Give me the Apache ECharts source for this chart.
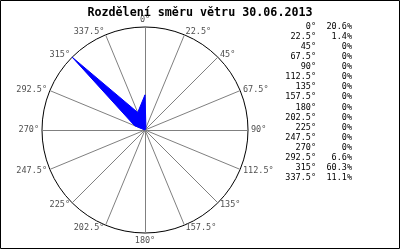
<!DOCTYPE html>
<html><head><meta charset="utf-8">
<script src="https://cdn.jsdelivr.net/npm/echarts@6/dist/echarts.min.js"></script>
<style>html,body{margin:0;padding:0;background:#fff}#c{width:400px;height:250px}</style>
</head><body><div id="c"></div>
<script>
const titleText = 'Rozdělení směru větru 30.06.2013';
const directions = [0, 22.5, 45, 67.5, 90, 112.5, 135, 157.5, 180, 202.5, 225, 247.5, 270, 292.5, 315, 337.5];
const values = [20.6, 1.4, 0, 0, 0, 0, 0, 0, 0, 0, 0, 0, 0, 6.6, 60.3, 11.1];
const radiusMax = 60.3;

const mono = 'DejaVu Sans Mono';
const n = directions.length;
// radar runs counter-clockwise; reorder so directions go clockwise from north
const order = directions.map((d, i) => (n - i) % n);
const indicators = order.map(i => ({ name: directions[i] + '°', min: 0, max: radiusMax }));
const radarValues = order.map(i => values[i]);
const legendDirs = directions.map(d => d + '°').join('\n');
const legendVals = values.map(v => v + '%').join('\n');

const chart = echarts.init(document.getElementById('c'), null, { renderer: 'canvas' });
chart.setOption({
  animation: false,
  backgroundColor: '#ffffff',
  title: [
    { text: titleText, left: 'center', top: 2,
      textStyle: { fontFamily: mono, fontWeight: 'bold', fontSize: 11.7, color: '#000' } },
    { text: legendDirs, left: 316, top: 21.5, padding: 0, textAlign: 'right',
      textStyle: { fontFamily: mono, fontWeight: 'normal', fontSize: 8.5, lineHeight: 10.1, color: '#000', align: 'right' } },
    { text: legendVals, left: 352, top: 21.5, padding: 0, textAlign: 'right',
      textStyle: { fontFamily: mono, fontWeight: 'normal', fontSize: 8.5, lineHeight: 10.1, color: '#000', align: 'right' } }
  ],
  graphic: [
    { type: 'rect', shape: { x: 0.5, y: 0.5, width: 399, height: 248 },
      style: { fill: 'none', stroke: '#000', lineWidth: 1 }, silent: true, z: 100 }
  ],
  radar: {
    center: [145, 130], radius: 103, startAngle: 90, splitNumber: 1, shape: 'circle',
    indicator: indicators,
    axisNameGap: 3,
    axisName: { color: '#505050', fontFamily: mono, fontSize: 8.5 },
    axisLine: { lineStyle: { color: '#808080', width: 1 } },
    axisTick: { show: false },
    axisLabel: { show: false },
    splitLine: { lineStyle: { color: '#000000', width: 1 } },
    splitArea: { show: false }
  },
  series: [{
    type: 'radar', symbol: 'none', silent: true,
    lineStyle: { color: '#0000ff', width: 1 },
    areaStyle: { color: '#0000ff', opacity: 1 },
    data: [{ value: radarValues }]
  }]
});
</script></body></html>
